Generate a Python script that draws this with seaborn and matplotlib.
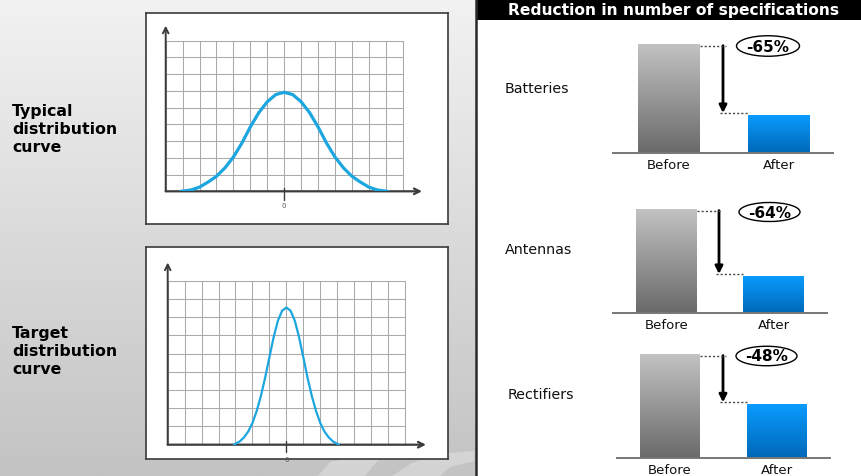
import numpy as np
import pandas as pd
import matplotlib
matplotlib.use("Agg")
import matplotlib.pyplot as plt
import seaborn as sns
from matplotlib.patches import Ellipse, Rectangle, Polygon
from matplotlib.colors import LinearSegmentedColormap

# ---------------- data ----------------
typical_x = [-6.1, -6.0, -5.5, -5.0, -4.5, -4.0, -3.5, -3.0, -2.5, -2.0, -1.5, -1.0, -0.5, 0.0,
             0.5, 1.0, 1.5, 2.0, 2.5, 3.0, 3.5, 4.0, 4.5, 5.0, 5.5, 6.0, 6.1]
typical_y = [0.0, 0.01, 0.08, 0.25, 0.55, 0.90, 1.40, 2.05, 2.88, 3.85, 4.70, 5.35, 5.78, 5.92,
             5.78, 5.35, 4.70, 3.85, 2.88, 2.05, 1.40, 0.90, 0.55, 0.25, 0.08, 0.01, 0.0]

target_x = [-3.1, -3.0, -2.75, -2.5, -2.25, -2.0, -1.75, -1.5, -1.25, -1.0, -0.75, -0.5, -0.25, 0.0,
            0.25, 0.5, 0.75, 1.0, 1.25, 1.5, 1.75, 2.0, 2.25, 2.5, 2.75, 3.0, 3.1]
target_y = [0.0, 0.05, 0.18, 0.40, 0.72, 1.19, 1.85, 2.68, 3.68, 4.80, 5.90, 6.80, 7.35, 7.53,
            7.35, 6.80, 5.90, 4.80, 3.68, 2.68, 1.85, 1.19, 0.72, 0.40, 0.18, 0.05, 0.0]

curve_titles = ["Typical\ndistribution\ncurve", "Target\ndistribution\ncurve"]
zero_label = "0"

chart_title = "Reduction in number of specifications"
categories = ["Batteries", "Antennas", "Rectifiers"]
phases = ["Before", "After"]
before_values = [100, 100, 100]
after_values = [35, 36, 52]
reduction_labels = ["-65%", "-64%", "-48%"]

# ---------------- setup ----------------
sns.set_style("white")
plt.rcParams["font.family"] = ["DejaVu Sans"]
plt.rcParams["text.color"] = "black"

W, H = 862, 477
fig = plt.figure(figsize=(W / 100, H / 100), dpi=100)


def rect(x0, y0, x1, y1):
    return [x0 / W, 1 - y1 / H, (x1 - x0) / W, (y1 - y0) / H]


# background
bg = fig.add_axes([0, 0, 1, 1], zorder=-10)
bg.axis("off")
bg_cmap = LinearSegmentedColormap.from_list("bg", ["#f2f2f2", "#c3c3c3"])
bg.imshow(np.linspace(0, 1, 256)[:, None], extent=[0, 476, H, 0], cmap=bg_cmap, aspect="auto")
# faint decorative swooshes at the bottom of the left side
bg.add_patch(Polygon([(318, H), (330, 463), (350, 459), (380, 459), (372, 468), (365, H)],
                     closed=True, fc="white", alpha=0.28, lw=0))
bg.add_patch(Polygon([(392, H), (412, 464), (440, 455), (474, 452), (474, 462), (450, 468),
                      (440, H)], closed=True, fc="white", alpha=0.28, lw=0))
bg.add_patch(Rectangle((476, 0), W - 476, H, color="white", lw=0))
bg.add_patch(Rectangle((476, 0), W - 476, 21, color="black", lw=0))
bg.plot([476.5, 476.5], [0, H], color="#2a2a2a", lw=1.8)
bg.set_xlim(0, W)
bg.set_ylim(H, 0)

# title of the right panel
fig.text(674 / W, 1 - 10 / H, chart_title, color="white", fontsize=11.2,
         fontweight="bold", ha="center", va="center")

# ---------------- distribution curves ----------------
curve_layout = [
    dict(box=(146, 14, 448, 225), grid=(165.7, 41.7, 402.7, 192.3), ytip=9.9, xtip=8.14,
         tick=(0.2, -0.5), zlab=-0.83, lw=2.3, label_y=129.5),
    dict(box=(146, 248, 448, 460), grid=(167.7, 281.7, 405.0, 445.7), ytip=10.0, xtip=8.24,
         tick=(0.22, -0.42), zlab=-0.79, lw=1.6, label_y=351.5),
]
curves = [(typical_x, typical_y), (target_x, target_y)]
curve_color = "#1ba6e0"
axis_color = "#3c3c3c"

for (cx, cy), lay, title in zip(curves, curve_layout, curve_titles):
    box = fig.add_axes(rect(*lay["box"]))
    box.set_facecolor("white")
    box.set_xticks([])
    box.set_yticks([])
    for s in box.spines.values():
        s.set_visible(True)
        s.set_color("#3a3a3a")
        s.set_linewidth(1.2)

    ax = fig.add_axes(rect(*lay["grid"]))
    ax.set_facecolor("none")
    ax.set_xlim(-7, 7)
    ax.set_ylim(0, 9)
    ax.set_xticks(np.arange(-7, 8))
    ax.set_yticks(np.arange(0, 10))
    ax.grid(True, color="#aaaaaa", lw=0.75)
    ax.tick_params(length=0, labelbottom=False, labelleft=False)
    for side in ["left", "bottom"]:
        ax.spines[side].set_visible(False)
    for side in ["top", "right"]:
        ax.spines[side].set_visible(True)
        ax.spines[side].set_color("#aaaaaa")
        ax.spines[side].set_linewidth(0.75)

    sns.lineplot(x=cx, y=cy, ax=ax, color=curve_color, lw=lay["lw"], sort=False,
                 estimator=None, zorder=5)

    # axes with open arrow heads
    ax.annotate("", xy=(-7, lay["ytip"]), xytext=(-7, 0), annotation_clip=False,
                arrowprops=dict(arrowstyle="->", color=axis_color, lw=1.4,
                                mutation_scale=10, shrinkA=0, shrinkB=0))
    ax.annotate("", xy=(lay["xtip"], 0), xytext=(-7, 0), annotation_clip=False,
                arrowprops=dict(arrowstyle="->", color=axis_color, lw=1.6,
                                mutation_scale=10, shrinkA=0, shrinkB=0))
    ax.plot([0, 0], list(lay["tick"]), color=axis_color, lw=1.0, clip_on=False, zorder=6)
    ax.text(0, lay["zlab"], zero_label, fontsize=5, color="#555555", ha="center",
            va="center", clip_on=False)
    ax.set_xlim(-7, 7)
    ax.set_ylim(0, 9)

    fig.text(12 / W, 1 - lay["label_y"] / H, title, fontsize=11.3, fontweight="bold",
             ha="left", va="center", linespacing=1.24, color="black")

# ---------------- bar panels ----------------
bar_layout = [
    dict(left=613, right=833, base=153.7, top=45, c0=669, c1=779, bw=62, arrow=723,
         ell=(768, 47, 63, 20.5), name=(505, 89)),
    dict(left=613, right=827, base=314, top=210, c0=666.5, c1=773.5, bw=61, arrow=719,
         ell=(769.5, 213, 61, 19), name=(505, 250)),
    dict(left=617, right=830, base=459, top=355, c0=670, c1=777, bw=60, arrow=723,
         ell=(766.5, 357, 61, 19.5), name=(508, 395)),
]
gray_cmap = LinearSegmentedColormap.from_list("g", ["#6a6a6a", "#c2c2c2"])
blue_cmap = LinearSegmentedColormap.from_list("b", ["#0068b8", "#0a9cff"])

for cat, bval, aval, lab, lay in zip(categories, before_values, after_values,
                                     reduction_labels, bar_layout):
    ax = fig.add_axes(rect(lay["left"], lay["top"], lay["right"], lay["base"]))
    ax.set_facecolor("none")
    sp = lay["c1"] - lay["c0"]
    ypx = (lay["base"] - lay["top"]) / bval  # pixels per unit
    df = pd.DataFrame({"phase": phases, "value": [bval, aval]})
    sns.barplot(data=df, x="phase", y="value", hue="phase", palette=["#9a9a9a", "#0088e0"],
                width=lay["bw"] / sp, ax=ax, legend=False, saturation=1)
    for patch, cm in zip(ax.patches, [gray_cmap, blue_cmap]):
        x0, w, h = patch.get_x(), patch.get_width(), patch.get_height()
        im = ax.imshow(np.linspace(0, 1, 128)[:, None], extent=[x0, x0 + w, 0, h],
                       origin="lower", cmap=cm, aspect="auto", zorder=patch.get_zorder() + 0.1)
        im.set_clip_path(patch)

    xl = (-(lay["c0"] - lay["left"]) / sp, 1 + (lay["right"] - lay["c1"]) / sp)
    ax.set_xlim(*xl)
    ax.set_ylim(0, bval)
    ax.set_xlabel("")
    ax.set_ylabel("")
    ax.set_yticks([])
    for side in ["left", "top", "right"]:
        ax.spines[side].set_visible(False)
    ax.spines["bottom"].set_color("#777777")
    ax.spines["bottom"].set_linewidth(1.4)
    ax.tick_params(axis="x", length=0, pad=3.6, labelsize=9.5, labelcolor="#111111")

    half = lay["bw"] / sp / 2
    xa = (lay["arrow"] - lay["c0"]) / sp
    ax.plot([half, xa + 0.03], [bval - 1.5, bval - 1.5], ls=(0, (1.5, 1.5)),
            color="#444444", lw=1.0, clip_on=False, zorder=4)
    ax.plot([xa - 0.03, 1 - half], [aval + 1.5, aval + 1.5], ls=(0, (1.5, 1.5)),
            color="#444444", lw=1.0, clip_on=False, zorder=4)
    ax.annotate("", xy=(xa, aval + 1.5), xytext=(xa, bval - 1.5), annotation_clip=False,
                arrowprops=dict(arrowstyle="-|>", color="black", lw=2.0, mutation_scale=11,
                                shrinkA=0, shrinkB=0))
    ex, ey, ew, eh = lay["ell"]
    exd = (ex - lay["c0"]) / sp
    eyd = (lay["base"] - ey) / ypx
    ax.add_patch(Ellipse((exd, eyd), ew / sp, eh / ypx, fc="white", ec="black", lw=1.0,
                         clip_on=False, zorder=6))
    ax.text(exd, eyd, lab, fontsize=11, fontweight="bold", ha="center", va="center",
            color="black", zorder=7, clip_on=False)

    fig.text(lay["name"][0] / W, 1 - lay["name"][1] / H, cat, fontsize=10.3,
             ha="left", va="center", color="#111111")

fig.savefig("out.png", dpi=100)
